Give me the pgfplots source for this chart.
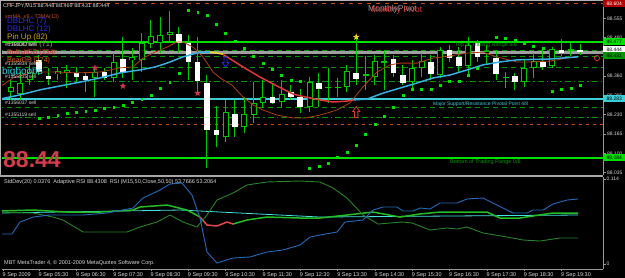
\documentclass[border=0pt]{standalone}
\usepackage{pgfplots}
\pgfplotsset{compat=1.18}
\usepackage{pgfplotstable}
\usepackage{fontspec}
\setmainfont{Liberation Sans}

\definecolor{cg}{RGB}{0,200,0}
\definecolor{lg}{RGB}{0,225,0}
\definecolor{dg}{RGB}{0,150,0}
\definecolor{org}{RGB}{195,75,25}
\definecolor{sky}{RGB}{55,175,225}
\definecolor{mared}{RGB}{225,55,55}
\definecolor{mayel}{RGB}{230,220,40}
\definecolor{brn}{RGB}{175,60,20}
\definecolor{piv}{RGB}{60,205,215}
\definecolor{stb}{RGB}{35,105,185}
\definecolor{rsig}{RGB}{40,130,40}
\definecolor{rsib}{RGB}{35,190,35}
\definecolor{rsir}{RGB}{230,70,70}
\definecolor{cyl}{RGB}{70,225,225}
\definecolor{strd}{RGB}{205,55,75}
\definecolor{stry}{RGB}{240,215,20}
\definecolor{dblue}{RGB}{45,45,240}
\definecolor{pinup}{RGB}{205,165,20}
\definecolor{pindn}{RGB}{150,150,110}
\definecolor{bull}{RGB}{205,45,45}
\definecolor{bear}{RGB}{225,85,30}
\definecolor{bigc}{RGB}{40,205,225}
\definecolor{bigred}{RGB}{210,60,75}
\definecolor{lbl}{RGB}{215,215,215}
\definecolor{axg}{RGB}{150,150,150}

\newcommand{\fsz}[1]{\fontsize{#1}{#1}\selectfont}

\pgfdeclareplotmark{fstar}{%
  \pgfpathmoveto{\pgfqpoint{0pt}{\pgfplotmarksize}}%
  \pgfpathlineto{\pgfqpoint{0.235\pgfplotmarksize}{0.324\pgfplotmarksize}}%
  \pgfpathlineto{\pgfqpoint{0.951\pgfplotmarksize}{0.309\pgfplotmarksize}}%
  \pgfpathlineto{\pgfqpoint{0.380\pgfplotmarksize}{-0.124\pgfplotmarksize}}%
  \pgfpathlineto{\pgfqpoint{0.588\pgfplotmarksize}{-0.809\pgfplotmarksize}}%
  \pgfpathlineto{\pgfqpoint{0pt}{-0.4\pgfplotmarksize}}%
  \pgfpathlineto{\pgfqpoint{-0.588\pgfplotmarksize}{-0.809\pgfplotmarksize}}%
  \pgfpathlineto{\pgfqpoint{-0.380\pgfplotmarksize}{-0.124\pgfplotmarksize}}%
  \pgfpathlineto{\pgfqpoint{-0.951\pgfplotmarksize}{0.309\pgfplotmarksize}}%
  \pgfpathlineto{\pgfqpoint{-0.235\pgfplotmarksize}{0.324\pgfplotmarksize}}%
  \pgfpathclose\pgfusepathqfill}
\pgfdeclareplotmark{uarr}{%
  \pgfpathmoveto{\pgfqpoint{-0.3\pgfplotmarksize}{-\pgfplotmarksize}}%
  \pgfpathlineto{\pgfqpoint{0.3\pgfplotmarksize}{-\pgfplotmarksize}}%
  \pgfpathlineto{\pgfqpoint{0.3\pgfplotmarksize}{0.1\pgfplotmarksize}}%
  \pgfpathlineto{\pgfqpoint{0.65\pgfplotmarksize}{0.1\pgfplotmarksize}}%
  \pgfpathlineto{\pgfqpoint{0pt}{\pgfplotmarksize}}%
  \pgfpathlineto{\pgfqpoint{-0.65\pgfplotmarksize}{0.1\pgfplotmarksize}}%
  \pgfpathlineto{\pgfqpoint{-0.3\pgfplotmarksize}{0.1\pgfplotmarksize}}%
  \pgfpathclose\pgfusepathqstroke}
\pgfdeclareplotmark{darr}{%
  \pgfpathmoveto{\pgfqpoint{-0.3\pgfplotmarksize}{\pgfplotmarksize}}%
  \pgfpathlineto{\pgfqpoint{0.3\pgfplotmarksize}{\pgfplotmarksize}}%
  \pgfpathlineto{\pgfqpoint{0.3\pgfplotmarksize}{-0.1\pgfplotmarksize}}%
  \pgfpathlineto{\pgfqpoint{0.65\pgfplotmarksize}{-0.1\pgfplotmarksize}}%
  \pgfpathlineto{\pgfqpoint{0pt}{-\pgfplotmarksize}}%
  \pgfpathlineto{\pgfqpoint{-0.65\pgfplotmarksize}{-0.1\pgfplotmarksize}}%
  \pgfpathlineto{\pgfqpoint{-0.3\pgfplotmarksize}{-0.1\pgfplotmarksize}}%
  \pgfpathclose\pgfusepathqstroke}

% white-bodied candles (open above close)
\pgfplotstableread{
t o h l c
5.50 88.415 88.431 88.364 88.374
5.75 88.361 88.388 88.330 88.351
6.50 88.371 88.391 88.340 88.357
6.75 88.361 88.374 88.307 88.347
7.25 88.374 88.388 88.347 88.354
7.75 88.418 88.492 88.357 88.371
9.25 88.502 88.526 88.438 88.472
9.50 88.472 88.499 88.347 88.408
9.75 88.408 88.492 88.307 88.344
10.00 88.337 88.364 88.051 88.179
10.25 88.179 88.260 88.122 88.162
10.75 88.233 88.280 88.155 88.189
11.75 88.290 88.337 88.266 88.270
12.25 88.307 88.330 88.280 88.290
12.50 88.290 88.320 88.239 88.256
13.00 88.337 88.371 88.256 88.320
14.00 88.371 88.492 88.330 88.351
15.00 88.418 88.431 88.357 88.371
15.25 88.364 88.398 88.330 88.337
16.00 88.408 88.431 88.347 88.367
16.50 88.448 88.465 88.408 88.421
16.75 88.425 88.458 88.374 88.394
17.25 88.472 88.482 88.408 88.425
17.75 88.421 88.448 88.347 88.367
18.25 88.361 88.371 88.314 88.340
19.00 88.408 88.455 88.381 88.391
19.50 88.448 88.488 88.431 88.438
20.00 88.448 88.469 88.431 88.444
}\Wtab

% green-outlined candles (close above open)
\pgfplotstableread{
t o h l c
4.75 88.307 88.347 88.280 88.324
5.00 88.300 88.374 88.280 88.337
5.25 88.347 88.398 88.330 88.374
6.00 88.367 88.391 88.347 88.377
6.25 88.374 88.398 88.320 88.381
7.00 88.354 88.391 88.290 88.374
7.50 88.354 88.438 88.340 88.408
8.00 88.415 88.455 88.347 88.425
8.25 88.415 88.506 88.374 88.472
8.50 88.468 88.549 88.455 88.495
8.75 88.472 88.559 88.438 88.499
9.00 88.499 88.580 88.475 88.509
10.50 88.155 88.280 88.138 88.239
11.00 88.189 88.290 88.169 88.233
11.25 88.229 88.340 88.202 88.270
11.50 88.270 88.347 88.253 88.290
12.00 88.273 88.347 88.256 88.300
12.75 88.256 88.357 88.239 88.340
13.25 88.322 88.388 88.270 88.325
13.50 88.322 88.354 88.290 88.325
13.75 88.324 88.398 88.307 88.377
14.25 88.362 88.431 88.314 88.366
14.50 88.357 88.431 88.330 88.411
14.75 88.406 88.448 88.314 88.410
15.50 88.340 88.415 88.314 88.388
15.75 88.388 88.438 88.357 88.411
16.25 88.364 88.458 88.354 88.448
17.00 88.394 88.492 88.364 88.465
17.50 88.438 88.465 88.398 88.445
18.00 88.356 88.374 88.320 88.359
18.50 88.340 88.415 88.324 88.388
18.75 88.388 88.438 88.354 88.411
19.25 88.394 88.458 88.388 88.452
19.75 88.446 88.472 88.431 88.450
}\Gtab

\begin{document}
\begin{tikzpicture}[x=1pt,y=1pt]
\useasboundingbox (0,0) rectangle (625,278);
\fill[black] (0,0) rectangle (625,278);

% ---------------- main price panel ----------------
\begin{axis}[
  at={(2pt,102.5pt)}, anchor=south west,
  scale only axis, width=601pt, height=172.5pt,
  xmin=4.509, xmax=20.612, ymin=88.0255, ymax=88.6065,
  axis x line=none, axis y line*=right,
  axis line style={draw=axg, line width=0.8pt, -},
  ytick={88.035,88.100,88.165,88.230,88.295,88.360,88.425,88.490,88.555},
  tick align=outside, major tick length=3pt,
  tick style={draw=axg, line width=0.6pt},
  yticklabel style={font=\fsz{5}, text=lbl, inner sep=1pt,
    /pgf/number format/fixed, /pgf/number format/fixed zerofill,
    /pgf/number format/precision=3, /pgf/number format/assume math mode=true},
]
% levels
\addplot[org, line width=0.8pt, dash pattern=on 4pt off 5pt] coordinates {(4.4,88.604)(20.7,88.604)};
\addplot[lg, line width=1.3pt] coordinates {(4.4,88.4755)(20.7,88.4755)};
\addplot[dg, line width=0.8pt, dash pattern=on 5pt off 4pt] coordinates {(4.4,88.448)(20.7,88.448)};
\addplot[gray!75, line width=2.2pt] coordinates {(4.4,88.440)(20.7,88.440)};
\addplot[dg, line width=0.8pt, dash pattern=on 5pt off 4pt] coordinates {(4.4,88.428)(20.7,88.428)};
\addplot[dg, line width=0.8pt, dash pattern=on 5pt off 4pt] coordinates {(4.4,88.388)(20.7,88.388)};
\addplot[dg, line width=0.8pt, dash pattern=on 6pt off 3pt on 1.5pt off 3pt] coordinates {(4.4,88.344)(20.7,88.344)};
\addplot[piv, line width=1.5pt] coordinates {(4.4,88.283)(20.7,88.283)};
\addplot[dg, line width=0.8pt, dash pattern=on 5pt off 4pt] coordinates {(4.4,88.2565)(20.7,88.2565)};
\addplot[dg, line width=0.8pt, dash pattern=on 6pt off 3pt on 1.5pt off 3pt] coordinates {(4.4,88.2195)(20.7,88.2195)};
\addplot[org, line width=0.8pt, dash pattern=on 3pt off 4pt] coordinates {(4.4,88.199)(20.7,88.199)};
\addplot[lg, line width=1.3pt] coordinates {(4.4,88.084)(20.7,88.084)};

% wicks
\addplot[draw=none, mark=none, forget plot, error bars/.cd, y dir=both, y explicit, error mark=none,
  error bar style={draw=cg, line width=1pt}]
  table[x=t, y expr={(\thisrow{h}+\thisrow{l})/2}, y error expr={(\thisrow{h}-\thisrow{l})/2}] {\Wtab};
\addplot[draw=none, mark=none, forget plot, error bars/.cd, y dir=both, y explicit, error mark=none,
  error bar style={draw=cg, line width=1pt}]
  table[x=t, y expr={(\thisrow{h}+\thisrow{l})/2}, y error expr={(\thisrow{h}-\thisrow{l})/2}] {\Gtab};
% white bodies
\addplot[draw=none, mark=none, forget plot, error bars/.cd, y dir=both, y explicit, error mark=none,
  error bar style={draw=white, line width=5.5pt}]
  table[x=t, y expr={(\thisrow{o}+\thisrow{c})/2}, y error expr={max((\thisrow{o}-\thisrow{c})/2,0.0017)}] {\Wtab};
% green outlined bodies
\addplot[draw=none, mark=none, forget plot, error bars/.cd, y dir=both, y explicit, error mark=none,
  error bar style={draw=cg, line width=6pt}]
  table[x=t, y expr={(\thisrow{o}+\thisrow{c})/2}, y error expr={max((\thisrow{c}-\thisrow{o})/2,0.0017)}] {\Gtab};
\addplot[draw=none, mark=none, forget plot, error bars/.cd, y dir=both, y explicit, error mark=none,
  error bar style={draw=black, line width=4pt}]
  table[x=t, y expr={(\thisrow{o}+\thisrow{c})/2}, y error expr={max((\thisrow{c}-\thisrow{o})/2-0.0034,0)}] {\Gtab};

% moving averages
\addplot[brn, line width=0.8pt] coordinates {(4.455,88.324)(4.803,88.354)(5.339,88.374)(5.982,88.374)(6.518,88.371)(7.135,88.374)(7.670,88.388)(8.019,88.391)(8.287,88.421)(8.608,88.441)(8.930,88.458)(9.198,88.475)(9.359,88.475)(9.626,88.458)(9.894,88.425)(10.162,88.374)(10.350,88.354)(10.671,88.330)(10.966,88.290)(11.234,88.263)(11.502,88.246)(11.877,88.229)(12.306,88.219)(12.628,88.219)(13.030,88.229)(13.485,88.246)(13.834,88.270)(14.182,88.324)(14.557,88.374)(14.905,88.398)(15.173,88.404)(15.629,88.404)(16.058,88.421)(16.513,88.428)(16.969,88.438)(17.397,88.441)(17.772,88.425)(18.308,88.408)(18.737,88.408)(19.193,88.411)(19.648,88.421)(19.943,88.428)};
\addplot[sky, line width=1.5pt] coordinates {(4.455,88.283)(4.991,88.297)(5.527,88.314)(6.063,88.327)(6.599,88.340)(7.135,88.354)(7.670,88.371)(8.206,88.381)(8.608,88.391)(8.930,88.404)(9.359,88.425)(9.814,88.441)(10.082,88.441)};
\addplot[mayel, line width=1.5pt] coordinates {(10.082,88.441)(10.270,88.438)(10.430,88.434)};
\addplot[mared, line width=1.5pt] coordinates {(10.430,88.434)(10.538,88.425)(10.966,88.391)(11.422,88.357)(11.877,88.327)(12.306,88.300)(12.628,88.290)(13.030,88.280)(13.378,88.273)(13.753,88.276)(13.914,88.280)};
\addplot[sky, line width=1.5pt] coordinates {(13.914,88.280)(14.289,88.283)(14.718,88.303)(15.173,88.320)(15.629,88.337)(16.058,88.354)(16.513,88.364)(16.969,88.381)(17.397,88.398)(17.853,88.408)(18.308,88.415)(19.193,88.418)(19.943,88.425)};

% parabolic SAR dots
\addplot[only marks, mark=square*, mark size=0.9pt, color=lg] coordinates {(5.50,88.219)(5.75,88.223)(6.00,88.229)(6.25,88.236)(6.50,88.239)(6.75,88.243)(7.00,88.246)(7.25,88.253)(7.50,88.256)(7.75,88.263)(8.00,88.273)(8.25,88.283)(8.50,88.297)(8.75,88.320)(9.00,88.340)(9.25,88.371)(9.50,88.583)(9.75,88.576)(10.00,88.566)(10.25,88.536)(10.50,88.506)(10.75,88.479)(11.00,88.455)(11.25,88.428)(11.50,88.404)(11.75,88.384)(12.00,88.364)(12.25,88.347)(12.50,88.344)(12.75,88.051)(13.00,88.058)(13.25,88.068)(13.50,88.088)(13.75,88.105)(14.00,88.128)(14.25,88.165)(14.50,88.199)(14.75,88.226)(15.00,88.256)(15.25,88.297)(15.50,88.317)(15.75,88.317)(16.00,88.317)(16.25,88.330)(16.50,88.344)(16.75,88.344)(17.00,88.364)(17.25,88.388)(17.75,88.492)(18.00,88.488)(18.25,88.482)(18.50,88.472)(18.75,88.462)(19.00,88.455)(19.25,88.310)(19.50,88.317)(19.75,88.320)(20.00,88.330)};

% signals
\addplot[only marks, mark=fstar, mark size=3.6pt, color=strd] coordinates {(7.00,88.388)(7.75,88.327)(9.75,88.303)};
\addplot[only marks, mark=fstar, mark size=3.6pt, color=stry] coordinates {(14.00,88.492)};
\addplot[only marks, mark=darr, mark size=5pt, color=dblue, line width=0.8pt] coordinates {(10.50,88.408)};
\addplot[only marks, mark=uarr, mark size=5.5pt, color=mared, line width=0.8pt] coordinates {(14.00,88.239)};
\addplot[only marks, mark=o, mark size=2.6pt, color=mared, line width=0.7pt] coordinates {(20.45,88.421)};
\end{axis}

% ---------------- indicator panel ----------------
\begin{axis}[
  at={(2pt,9pt)}, anchor=south west,
  scale only axis, width=601pt, height=92pt,
  xmin=4.509, xmax=20.612, ymin=-0.0067, ymax=0.1167,
  axis x line*=bottom, axis y line*=right,
  axis line style={draw=axg, line width=0.8pt, -},
  xtick={4.535,5.5,6.5,7.5,8.5,9.5,10.5,11.5,12.5,13.5,14.5,15.5,16.5,17.5,18.5,19.5},
  xticklabels={9 Sep 2009,9 Sep 05:30,9 Sep 06:30,9 Sep 07:30,9 Sep 08:30,9 Sep 09:30,9 Sep 10:30,9 Sep 11:30,9 Sep 12:30,9 Sep 13:30,9 Sep 14:30,9 Sep 15:30,9 Sep 16:30,9 Sep 17:30,9 Sep 18:30,9 Sep 19:30},
  ytick={0,0.114}, yticklabels={0,0.114},
  tick align=outside, major tick length=2.5pt,
  tick style={draw=axg, line width=0.6pt},
  xticklabel style={font=\fsz{5.5}, text=lbl, anchor=north west, inner sep=0.5pt, xshift=-1pt},
  yticklabel style={font=\fsz{5}, text=lbl, inner sep=1pt},
]
\addplot[cyl, line width=0.8pt] coordinates {(4.455,0.0684)(9.278,0.0724)(13.030,0.0630)(19.943,0.0657)};
\addplot[rsib, line width=1.5pt] coordinates {(4.455,0.0711)(5.339,0.0724)(6.250,0.0697)(7.135,0.0697)(8.019,0.0724)(8.206,0.0764)(8.930,0.0791)(9.466,0.0724)(9.814,0.0630)};
\addplot[rsir, line width=1.5pt] coordinates {(9.814,0.0630)(10.002,0.0523)(10.270,0.0510)(10.538,0.0563)(10.698,0.0536)};
\addplot[rsib, line width=1.5pt] coordinates {(10.698,0.0536)(11.073,0.0590)(11.609,0.0630)(12.494,0.0617)(13.030,0.0617)(13.753,0.0657)(14.450,0.0697)(15.173,0.0630)(15.709,0.0671)(16.245,0.0697)(16.969,0.0697)(17.504,0.0697)(17.853,0.0617)(18.389,0.0617)(18.737,0.0644)(19.273,0.0684)(19.943,0.0684)};
\addplot[rsig, line width=0.9pt] coordinates {(4.455,0.0697)(5.339,0.0684)(5.875,0.0630)(6.143,0.0590)(6.679,0.0429)(7.135,0.0429)(7.858,0.0429)(8.206,0.0496)(8.662,0.0563)(9.010,0.0657)(9.359,0.0563)(9.734,0.0496)(10.002,0.0657)(10.270,0.0858)(10.698,0.0952)(11.073,0.1060)(11.609,0.1100)(12.494,0.1113)(13.030,0.1100)(13.378,0.1019)(13.753,0.0885)(14.182,0.0657)(14.584,0.0536)(15.227,0.0563)(15.495,0.0550)(15.977,0.0456)(16.433,0.0483)(16.701,0.0469)(16.969,0.0496)(17.397,0.0416)(18.040,0.0362)(18.469,0.0322)(18.924,0.0308)(19.460,0.0349)(19.943,0.0349)};
\addplot[stb, line width=0.9pt] coordinates {(4.455,0.0402)(4.777,0.0402)(4.991,0.0563)(5.339,0.0630)(5.795,0.0657)(6.679,0.0657)(7.322,0.0684)(8.019,0.0751)(8.287,0.0885)(8.742,0.0992)(9.010,0.1073)(9.332,0.1086)(9.600,0.0925)(9.814,0.0617)(10.002,0.0161)(10.270,0.0013)(10.698,0.0080)(11.154,0.0094)(11.609,0.0161)(12.038,0.0188)(12.494,0.0255)(12.762,0.0362)(13.030,0.0389)(13.485,0.0429)(13.700,0.0563)(14.182,0.0590)(14.450,0.0724)(14.718,0.0764)(15.093,0.0764)(15.254,0.0711)(15.522,0.0711)(15.709,0.0751)(15.977,0.0738)(16.245,0.0818)(16.701,0.0818)(16.969,0.0872)(17.397,0.0885)(17.772,0.0791)(18.201,0.0684)(18.576,0.0684)(18.737,0.0724)(19.005,0.0724)(19.273,0.0805)(19.648,0.0858)(19.943,0.0872)};
\end{axis}

% frame and separator
\draw[gray!60, line width=0.8pt] (0.5,102) -- (0.5,277.6) -- (603,277.6);
\fill[gray!70] (0,100.8) rectangle (603,103);

% texts in price panel
\node[anchor=base west, inner sep=0, text=lbl, font=\fsz{5.5}] at (3,270) {CHFJPY,M15 88.448 88.469 88.431 88.444};
\node[anchor=base west, inner sep=0, text=org, font=\fsz{5.5}] at (5,259.5) {xmMA\_v9 - T3MA(13)};
\node[anchor=base west, inner sep=0, text=dblue, font=\fsz{8}] at (7,254.5) {DBLHC (7)};
\node[anchor=base west, inner sep=0, text=dblue, font=\fsz{8}] at (7,246.5) {DBLHC (12)};
\node[anchor=base west, inner sep=0, text=pinup, font=\fsz{8}] at (7,238.5) {Pin Up (82)};
\node[anchor=base west, inner sep=0, text=pindn, font=\fsz{7.5}] at (7,231) {PinDown (71)};
\node[anchor=base west, inner sep=0, text=bull, font=\fsz{7}] at (7,223) {BullishDB (234)};
\node[anchor=base west, inner sep=0, text=bear, font=\fsz{7}] at (7,215.5) {BearDB (274)};
\node[anchor=base west, inner sep=0, text=lbl, font=\fsz{5}] at (5,231.5) {\#1356047 sell};
\node[anchor=base west, inner sep=0, text=lbl, font=\fsz{5}] at (5,212) {\#1355834 sell};
\node[anchor=base west, inner sep=0, text=bigc, font=\fsz{10}] at (2,203.5) {bigboobs};
\node[anchor=base west, inner sep=0, text=lbl, font=\fsz{5}] at (5,199) {\#1355835 sell};
\node[anchor=base west, inner sep=0, text=lbl, font=\fsz{5}] at (5,173) {\#1356037 sell};
\node[anchor=base west, inner sep=0, text=lbl, font=\fsz{5}] at (5,161) {\#1355119 sell};
\node[anchor=base west, inner sep=0, text=bigred, font=\fsz{23}\bfseries] at (3,110.5) {88.44};
\node[anchor=base west, inner sep=0, text=gray!80, font=\fsz{8.5}] at (368,266) {MonthlyPivot};
\node[anchor=base west, inner sep=0, text=mared, font=\fsz{8.5}] at (371,265.5) {Monthly Pivot};
\node[anchor=base west, inner sep=0, text=dg, font=\fsz{5.5}] at (455,231.5) {Top of Trading Range 8/8};
\node[anchor=base west, inner sep=0, text=piv, font=\fsz{5}] at (433,172.5) {Major Support/Resistance Pivotal Point 4/8};
\node[anchor=base west, inner sep=0, text=dg, font=\fsz{5.5}] at (450,114) {Bottom of Trading Range 0/8};

% price boxes on the scale
\tikzset{pbox/.style={anchor=west, inner xsep=1pt, inner ysep=0pt, minimum height=7pt, minimum width=22pt, font=\fsz{5}}}
\node[pbox, fill=red!70!black, text=white] at (603,274.5) {88.604};
\node[pbox, fill=lg, text=black] at (603,236.5) {88.477};
\node[pbox, fill=white, text=black] at (603,228) {88.444};
\node[pbox, fill=dg, text=black] at (603,222) {88.431};
\node[pbox, fill=piv, text=black] at (603,179) {88.283};
\node[pbox, fill=lg, text=black] at (603,120) {88.084};

% texts in indicator panel
\node[anchor=base west, inner sep=0, text=lbl, font=\fsz{5.5}] at (4,94.5) {StdDev(20) 0.0376\ \ Adaptive RSI 88.4308\ \ RSI (M15,50,Close,50,50) 53.7666 53.2064};
\node[anchor=base west, inner sep=0, text=lbl, font=\fsz{5.5}] at (4,13) {MBT MetaTrader 4, © 2001-2009 MetaQuotes Software Corp.};
\end{tikzpicture}
\end{document}
